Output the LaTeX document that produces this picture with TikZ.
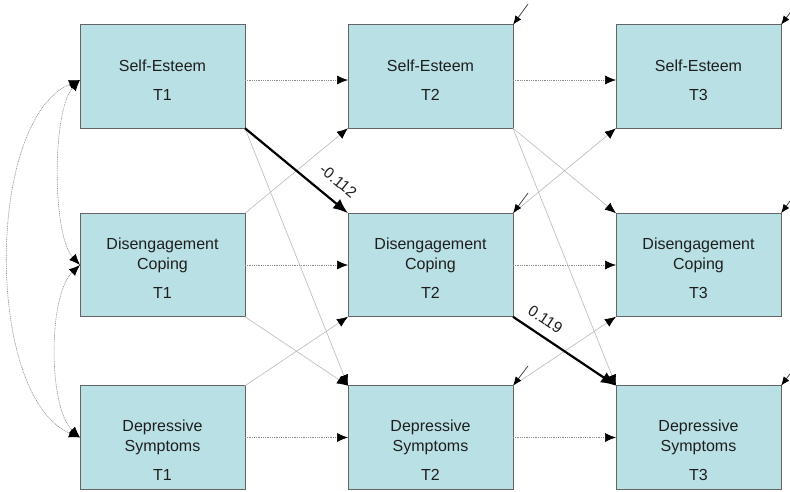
\documentclass[tikz,border=0pt]{standalone}
\usepackage{fontspec}
\setmainfont{Liberation Sans}
\usetikzlibrary{arrows.meta}
\definecolor{boxfill}{RGB}{185,224,228}
\definecolor{boxline}{RGB}{100,100,100}
\definecolor{txt}{RGB}{30,30,30}
\definecolor{dotgray}{RGB}{140,140,140}
\definecolor{thingray}{RGB}{185,185,185}
\definecolor{distgray}{RGB}{70,70,70}
\tikzset{
  varbox/.style={draw=boxline, fill=boxfill, line width=0.8pt, minimum width=165pt, minimum height=103.5pt, inner sep=0pt, outer sep=0pt},
  vartext/.style={align=center, text=txt, font=\fontsize{16}{20}\selectfont, inner sep=0pt},
  tip/.style={-{Latex[length=11pt,width=9pt,black]}},
  stab/.style={tip, draw=dotgray, line width=0.7pt, dash pattern=on 1pt off 0.8pt},
  cross/.style={tip, draw=thingray, line width=0.6pt},
  sig/.style={-{Latex[length=15pt,width=12pt,black]}, draw=black, line width=2.2pt},
  corr/.style={{Latex[length=11pt,width=9pt,black]}-{Latex[length=11pt,width=9pt,black]}, draw=dotgray, line width=0.6pt, dash pattern=on 1pt off 0.8pt},
  dist/.style={-{Latex[length=9pt,width=7pt,black]}, draw=distgray, line width=0.8pt},
  coef/.style={font=\fontsize{15.5}{18}\selectfont, text=txt, inner sep=0pt, sloped}
}
\begin{document}
\begin{tikzpicture}[x=1pt, y=-1pt]
\clip (0,0) rectangle (790,491);
\fill[white] (0,0) rectangle (790,491);

% boxes
\node[varbox] (se1) at (162.5,76.5) {};
\node[varbox] (se2) at (430.5,76.5) {};
\node[varbox] (se3) at (698.5,76.5) {};
\node[varbox] (dc1) at (162.5,265) {};
\node[varbox] (dc2) at (430.5,265) {};
\node[varbox] (dc3) at (698.5,265) {};
\node[varbox] (ds1) at (162.5,437.5) {};
\node[varbox] (ds2) at (430.5,437.5) {};
\node[varbox] (ds3) at (698.5,437.5) {};

% texts
\node[vartext] (se1t) at (162.5,80.5) {Self-Esteem\\[9pt]T1};
\node[vartext] (se2t) at (430.5,80.5) {Self-Esteem\\[9pt]T2};
\node[vartext] (se3t) at (698.5,80.5) {Self-Esteem\\[9pt]T3};
\node[vartext] (dc1t) at (162.5,268.5) {Disengagement\\Coping\\[9pt]T1};
\node[vartext] (dc2t) at (430.5,268.5) {Disengagement\\Coping\\[9pt]T2};
\node[vartext] (dc3t) at (698.5,268.5) {Disengagement\\Coping\\[9pt]T3};
\node[vartext] (ds1t) at (162.5,450) {Depressive\\Symptoms\\[9pt]T1};
\node[vartext] (ds2t) at (430.5,450) {Depressive\\Symptoms\\[9pt]T2};
\node[vartext] (ds3t) at (698.5,450) {Depressive\\Symptoms\\[9pt]T3};

% stability paths
\draw[stab] ([yshift=-3.5pt]se1.east) -- ([yshift=-3.5pt]se2.west);
\draw[stab] ([yshift=-3.5pt]se2.east) -- ([yshift=-3.5pt]se3.west);
\draw[stab] (dc1.east) -- (dc2.west);
\draw[stab] (dc2.east) -- (dc3.west);
\draw[stab] (ds1.east) -- (ds2.west);
\draw[stab] (ds2.east) -- (ds3.west);

% cross-lagged paths
\draw[cross] (se1.south east) -- (ds2.north west);
\draw[cross] (dc1.north east) -- (se2.south west);
\draw[cross] (dc1.south east) -- (ds2.north west);
\draw[cross] (ds1.north east) -- (dc2.south west);
\draw[cross] (se2.south east) -- (dc3.north west);
\draw[cross] (se2.south east) -- (ds3.north west);
\draw[cross] (dc2.north east) -- (se3.south west);
\draw[cross] (ds2.north east) -- (dc3.south west);

% significant paths
\draw[sig] (se1.south east) -- node[coef, pos=0.79, above=12pt] (c1) {-0.112} (dc2.north west);
\draw[sig] (dc2.south east) -- node[coef, pos=0.23, above=9pt] (c2) {0.119} (ds3.north west);

% correlations at T1
\draw[corr] ([yshift=-3.5pt]se1.west) .. controls +(-95,40) and +(-95,-40) .. (ds1.west);
\draw[corr] ([yshift=-3.5pt]se1.west) .. controls +(-28,30) and +(-28,-30) .. (dc1.west);
\draw[corr] (dc1.west) .. controls +(-32,30) and +(-32,-30) .. (ds1.west);

% disturbances
\coordinate (e_se2) at (528,4);
\coordinate (e_se3) at (796,5);
\coordinate (e_dc2) at (528,193);
\coordinate (e_dc3) at (796,193);
\coordinate (e_ds2) at (528,366);
\coordinate (e_ds3) at (796,366);
\draw[dist] (e_se2) -- (se2.north east);
\draw[dist] (e_se3) -- (se3.north east);
\draw[dist] (e_dc2) -- (dc2.north east);
\draw[dist] (e_dc3) -- (dc3.north east);
\draw[dist] (e_ds2) -- (ds2.north east);
\draw[dist] (e_ds3) -- (ds3.north east);
\end{tikzpicture}
\end{document}
